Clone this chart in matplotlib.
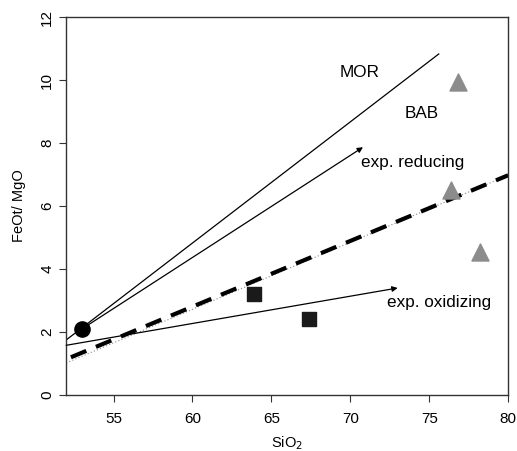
import matplotlib.pyplot as plt

plt.rcParams['font.family'] = ['Liberation Sans', 'DejaVu Sans']

# trend lines (x0, y0, x1, y1)
mor_line = [52.0, 1.75, 75.6, 10.83]
reducing_arrow = [53.0, 2.1, 70.8, 7.87]
oxidizing_arrow = [52.0, 1.58, 73.0, 3.40]
dashed_line = [52.3, 1.2, 80.0, 6.98]
dotted_line = [52.0, 1.02, 80.0, 6.98]

# samples
circle_x = [53.0]
circle_y = [2.1]
square_x = [63.9, 67.4]
square_y = [3.2, 2.41]
triangle_x = [76.8, 76.4, 78.2]
triangle_y = [9.94, 6.5, 4.54]

fig = plt.figure(figsize=(5.17, 4.51), dpi=100)
ax = fig.add_axes([0.128, 0.124, 0.855, 0.838])

ax.plot([mor_line[0], mor_line[2]], [mor_line[1], mor_line[3]], color='black', lw=0.9)
ax.plot([dotted_line[0], dotted_line[2]], [dotted_line[1], dotted_line[3]],
        color='#888888', lw=0.8, linestyle=(0, (1, 2)))
ax.plot([dashed_line[0], dashed_line[2]], [dashed_line[1], dashed_line[3]],
        color='black', lw=3, linestyle=(0, (4, 2.5)))

for a in (reducing_arrow, oxidizing_arrow):
    ax.annotate('', xy=(a[2], a[3]), xytext=(a[0], a[1]),
                arrowprops=dict(arrowstyle='-|>', color='black', lw=0.9,
                                mutation_scale=8, shrinkA=0, shrinkB=0))

ax.scatter(circle_x, circle_y, s=120, color='black', zorder=5)
ax.scatter(square_x, square_y, s=90, marker='s', color='#1a1a1a', zorder=5)
ax.scatter(triangle_x, triangle_y, s=150, marker='^', color='#8c8c8c', zorder=5)

ax.text(70.6, 10.25, 'MOR', fontsize=12.3, ha='center', va='center')
ax.text(74.5, 8.95, 'BAB', fontsize=12.3, ha='center', va='center')
ax.text(70.7, 7.37, 'exp. reducing', fontsize=12.3, ha='left', va='center')
ax.text(72.3, 2.95, 'exp. oxidizing', fontsize=12.3, ha='left', va='center')

ax.set_xlim(52, 80)
ax.set_ylim(0, 12)
ax.set_xticks([55, 60, 65, 70, 75, 80])
ax.set_yticks([0, 2, 4, 6, 8, 10, 12])
ax.tick_params(axis='both', labelsize=11, direction='out', length=5, color='#333333')
ax.tick_params(axis='x', pad=7)
plt.setp(ax.get_yticklabels(), rotation=90, va='center')
for s in ax.spines.values():
    s.set_color('#333333')
    s.set_linewidth(1)

ax.set_xlabel('SiO$_2$', fontsize=10.5, labelpad=6)
ax.set_ylabel('FeOt/ MgO', fontsize=10.5, labelpad=10)

fig.savefig('out.png', dpi=100)
